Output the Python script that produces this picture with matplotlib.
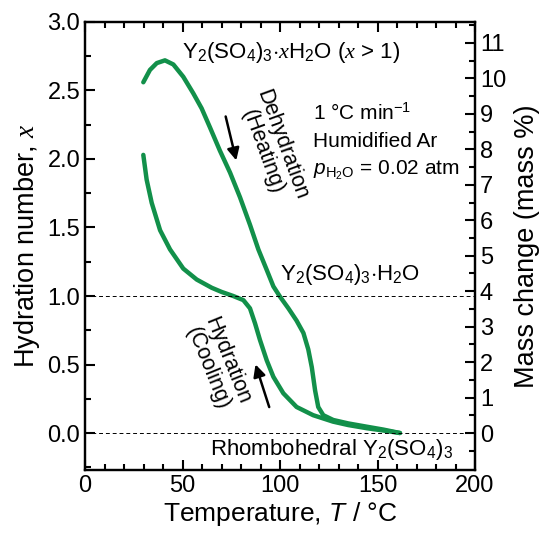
import numpy as np
import matplotlib
matplotlib.use('Agg')
import matplotlib.pyplot as plt
from matplotlib.ticker import MultipleLocator, FixedLocator

plt.rcParams['font.family'] = ['Liberation Sans', 'DejaVu Sans']
plt.rcParams['mathtext.fontset'] = 'custom'
plt.rcParams['mathtext.rm'] = 'Liberation Sans'
plt.rcParams['mathtext.it'] = 'Liberation Sans:italic'
plt.rcParams['mathtext.cal'] = 'Liberation Serif:italic'

# heating run (30 -> 160 C)
heat_T = [29.9, 33.3, 36.8, 41.0, 45.3, 50.4, 55.5, 59.8, 64.1, 69.2, 74.4, 79.5, 84.6,
          88.9, 93.2, 96.6, 100.0, 104.3, 108.5, 112.0, 114.5, 116.3, 118.0, 119.6,
          122.2, 127.3, 135.0, 144.5, 153.0, 161.5]
heat_x = [2.56, 2.65, 2.70, 2.72, 2.69, 2.60, 2.48, 2.37, 2.23, 2.06, 1.90, 1.72, 1.52,
          1.34, 1.19, 1.07, 0.995, 0.91, 0.82, 0.73, 0.61, 0.48, 0.31, 0.19,
          0.13, 0.095, 0.07, 0.046, 0.025, 0.0]
# cooling run (160 -> 30 C)
cool_T = [161.5, 153.0, 144.5, 135.0, 127.2, 117.0, 108.5, 101.7, 96.6, 93.2, 89.7,
          87.2, 84.6, 81.2, 76.0, 70.0, 65.0, 57.3, 50.4, 43.6, 38.5, 34.2, 31.6, 29.9]
cool_x = [0.0, 0.018, 0.035, 0.058, 0.083, 0.13, 0.19, 0.29, 0.41, 0.53, 0.68,
          0.80, 0.91, 0.97, 1.0, 1.03, 1.06, 1.12, 1.20, 1.34, 1.48, 1.68, 1.85, 2.03]

green = '#12904a'

fig = plt.figure(figsize=(5.39, 5.35), dpi=100)
ax = fig.add_axes([0.1577, 0.1215, 0.7236, 0.8374])

ax.plot(heat_T, heat_x, color=green, lw=3.2, solid_capstyle='round', solid_joinstyle='round')
ax.plot(cool_T, cool_x, color=green, lw=3.2, solid_capstyle='round', solid_joinstyle='round')
ax.axhline(0.0, color='k', ls=(0, (4, 3)), lw=0.7)
ax.axhline(1.0, color='k', ls=(0, (4, 3)), lw=0.7)

ax.set_xlim(0, 200)
ax.set_ylim(-0.27, 3.0)
ax.xaxis.set_major_locator(MultipleLocator(50))
ax.xaxis.set_minor_locator(MultipleLocator(10))
ax.yaxis.set_major_locator(MultipleLocator(0.5))
ax.yaxis.set_minor_locator(MultipleLocator(0.25))
ax.yaxis.set_major_formatter(matplotlib.ticker.FormatStrFormatter('%.1f'))
ax.tick_params(which='both', direction='in', top=True, right=False, width=1.5, labelsize=17)
ax.tick_params(which='major', length=7)
ax.tick_params(which='minor', length=4)
for s in ax.spines.values():
    s.set_linewidth(1.6)

ax.set_xlabel('Temperature, $T$ / \u00b0C', fontsize=19, labelpad=2)
ax.set_ylabel('Hydration number, $\\mathcal{x}$', fontsize=19.5, labelpad=4)

ax2 = ax.twinx()
ax2.set_ylim(-1.04, 11.59)
ax2.yaxis.set_major_locator(FixedLocator(np.arange(0, 12)))
ax2.yaxis.set_minor_locator(FixedLocator(np.arange(-0.5, 11.6, 0.5)))
ax2.tick_params(which='both', direction='in', width=1.5, labelsize=17)
ax2.tick_params(which='major', length=7)
ax2.tick_params(which='minor', length=4)
ax2.set_ylabel('Mass change (mass %)', fontsize=19.5, labelpad=6)
for s in ax2.spines.values():
    s.set_linewidth(1.6)

ax.text(49.7, 2.78, 'Y$_2$(SO$_4$)$_3$$\\cdot\\mathcal{x}$H$_2$O ($\\mathcal{x}$ > 1)',
        fontsize=16, va='center', ha='left')
ax.text(117, 2.34, '1 \u00b0C min$^{-1}$', fontsize=15, va='center', ha='left')
ax.text(117, 2.13, 'Humidified Ar', fontsize=15, va='center', ha='left')
ax.text(117, 1.92, '$p_{\\mathrm{H_2O}}$ = 0.02 atm', fontsize=15, va='center', ha='left')
ax.text(100, 1.16, 'Y$_2$(SO$_4$)$_3$$\\cdot$H$_2$O', fontsize=16, va='center', ha='left')
ax.text(64, -0.12, 'Rhombohedral Y$_2$(SO$_4$)$_3$', fontsize=16, va='center', ha='left')

ax.text(96, 2.08, 'Dehydration\n(Heating)', fontsize=15.5, rotation=-70,
        ha='center', va='center', linespacing=1.0, rotation_mode='anchor')
ax.text(68, 0.50, 'Hydration\n(Cooling)', fontsize=15.5, rotation=-68,
        ha='center', va='center', linespacing=1.0, rotation_mode='anchor')

ax.annotate('', xy=(77.9, 1.97), xytext=(71.8, 2.33),
            arrowprops=dict(arrowstyle='-|>', color='k', lw=1.8, mutation_scale=18))
ax.annotate('', xy=(87.0, 0.52), xytext=(94.9, 0.17),
            arrowprops=dict(arrowstyle='-|>', color='k', lw=1.8, mutation_scale=18))

fig.savefig('out.png', dpi=100)
